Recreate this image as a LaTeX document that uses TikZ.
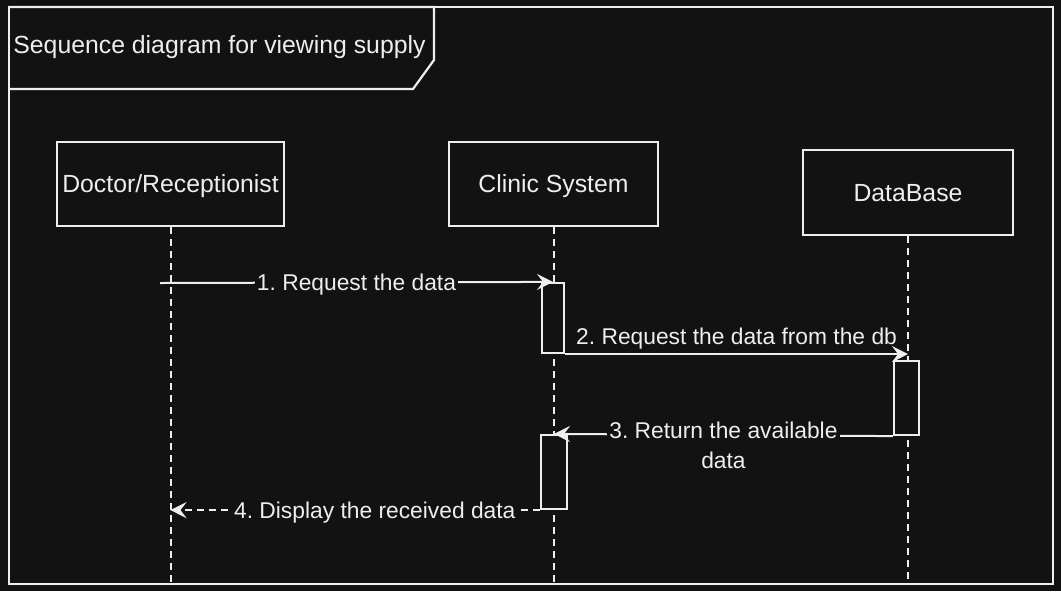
\documentclass[tikz,border=0pt]{standalone}
\usepackage{fontspec}
\setmainfont{Liberation Sans}
\usetikzlibrary{arrows.meta}
\definecolor{bgcol}{HTML}{121212}
\definecolor{fgcol}{HTML}{EEEEEE}
\frenchspacing

\tikzset{
    frame/.style={draw=fgcol, line width=1.1pt},
    box/.style={draw=fgcol, line width=1.1pt, fill=bgcol, text=fgcol, minimum height=42pt, inner sep=0pt, text height=8.9pt, text depth=0pt, font=\fontsize{12.4}{15}\selectfont},
    lifeline/.style={draw=fgcol, line width=1pt, dash pattern=on 3.5pt off 2.5pt},
    act/.style={draw=fgcol, line width=1.1pt, fill=bgcol, inner sep=0pt},
    msg/.style={draw=fgcol, line width=1pt, -{Stealth[length=8pt, width=8pt, inset=3pt]}},
    lbl/.style={fill=bgcol, text=fgcol, inner sep=1pt, text height=8.2pt, text depth=0pt, font=\fontsize{11.4}{15}\selectfont},
    lbltwo/.style={fill=bgcol, text=fgcol, inner sep=1pt, align=center, font=\fontsize{11.4}{15}\selectfont},
}

\begin{document}
\begin{tikzpicture}[x=0.5pt, y=-0.5pt]
    \fill[bgcol] (0,0) rectangle (1061,591);
    \useasboundingbox (0,0) rectangle (1061,591);

    \draw[frame] (9,7) rectangle (1053,584);
    \draw[frame] (9,7) -- (434,7) -- (434,60) -- (413,89) -- (9,89);
    \node[lbl, anchor=west, text height=8.9pt, font=\fontsize{12.4}{15}\selectfont] (title) at (11,45) {Sequence diagram for viewing supply};

    \path (0,584) coordinate (bottom);
    \path (160,283) coordinate (start);

    \node[box, minimum width=113.5pt] (doctor) at (170.5,184) {Doctor/Receptionist};
    \node[box, minimum width=104.5pt] (clinic) at (553.5,184) {Clinic System};
    \node[box, minimum width=105pt, minimum height=42.5pt] (db) at (908,192.5) {DataBase};

    \draw[lifeline] (doctor.south) -- (doctor.south |- bottom);
    \draw[lifeline] (clinic.south) -- (clinic.south |- bottom);
    \draw[lifeline] (db.south) -- (db.south |- bottom);

    \node[act, minimum width=11pt, minimum height=35pt] (act1) at (553,318) {};
    \node[act, minimum width=12.5pt, minimum height=37pt] (act2) at (906.5,398) {};
    \node[act, minimum width=13pt, minimum height=37pt] (act3) at (554,472) {};

    \draw[msg] (start) -- node[lbl] {1. Request the data} (act1.north);
    \draw[msg] (act1.south east) -- node[lbl, above=3.5pt] {2. Request the data from the db} (db.south |- act1.south);
    \draw[msg] (act2.south west) -- node[lbltwo, yshift=-5pt] {3. Return the available\\data} (act3.north);
    \draw[msg, dash pattern=on 3.5pt off 2.5pt] (act3.south west) -- node[lbl, pos=0.447] {4. Display the received data} (doctor.south |- act3.south);
\end{tikzpicture}
\end{document}
